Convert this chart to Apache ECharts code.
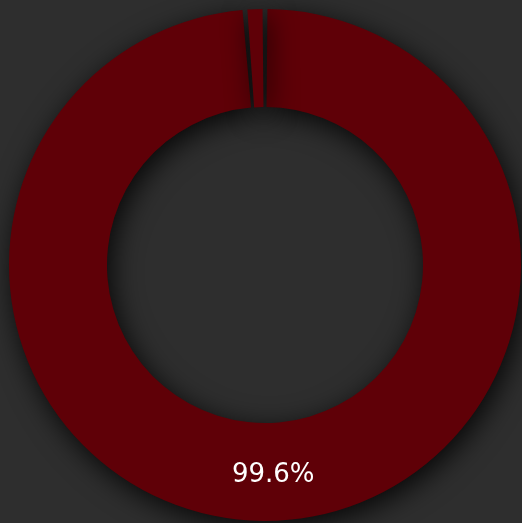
<!DOCTYPE html>
<html><head><meta charset="utf-8">
<script src="https://cdn.jsdelivr.net/npm/echarts@6/dist/echarts.min.js"></script>
<style>html,body{margin:0;padding:0;background:#2e2e2e}#c{width:522px;height:523px}</style>
</head><body><div id="c"></div>
<script>
const categories = ['A', 'B'];
const values = [99.6, 0.4];
const labels = ['99.6%', ''];
const chart = echarts.init(document.getElementById('c'));
chart.setOption({
  backgroundColor: '#2e2e2e',
  animation: false,
  series: [{
    type: 'pie',
    center: [265, 265],
    radius: [158, 256],
    startAngle: 90,
    clockwise: true,
    minAngle: 3.4,
    padAngle: 1.1,
    data: categories.map((c, i) => ({name: c, value: values[i], label: {show: labels[i] !== ''}})),
    itemStyle: {
      color: '#5f0007',
      shadowBlur: 28,
      shadowColor: 'rgba(0,0,0,0.85)',
      shadowOffsetX: 4,
      shadowOffsetY: 7
    },
    label: {
      position: 'inside',
      color: '#ffffff',
      fontSize: 26,
      fontFamily: 'DejaVu Sans',
      formatter: p => labels[p.dataIndex]
    },
    labelLine: {show: false}
  }]
});
</script></body></html>
